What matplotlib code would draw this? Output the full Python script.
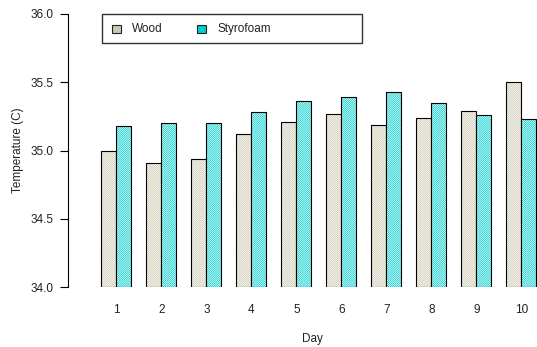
import matplotlib
matplotlib.use("Agg")
import matplotlib.pyplot as plt
from matplotlib.patches import Rectangle

days = ["1", "2", "3", "4", "5", "6", "7", "8", "9", "10"]
series = ["Wood", "Styrofoam"]
wood = [35.00, 34.91, 34.94, 35.12, 35.21, 35.27, 35.19, 35.24, 35.29, 35.50]
styrofoam = [35.18, 35.20, 35.20, 35.28, 35.36, 35.39, 35.43, 35.35, 35.26, 35.23]
colors = ["#CDC8B1", "#00CDCD"]
yticks = [34.0, 34.5, 35.0, 35.5, 36.0]

plt.rcParams["font.family"] = ["Liberation Sans", "DejaVu Sans"]
plt.rcParams["hatch.linewidth"] = 0.55

W, H = 537, 347
fig = plt.figure(figsize=(W / 100, H / 100), dpi=100)

ax_left, ax_right = 68, 537
ax_top, ax_bot = 14, 287.3
ax = fig.add_axes([ax_left / W, (H - ax_bot) / H, (ax_right - ax_left) / W, (ax_bot - ax_top) / H])

base = 34.0
x0 = 86.3
scale = 15.0
ax.set_xlim((ax_left - x0) / scale, (ax_right - x0) / scale)
ax.set_ylim(34.0, 36.0)

for s, vals in enumerate([wood, styrofoam]):
    for i, v in enumerate(vals):
        left = 3 * i + 1 + s
        ax.bar(left, v - base, width=1, bottom=base, align="edge",
               facecolor="white", edgecolor=colors[s], hatch="/" * 16, linewidth=0)
        ax.bar(left, v - base, width=1, bottom=base, align="edge",
               fill=False, edgecolor="black", linewidth=0.8)

fs = 8.5
ax.set_xticks([3 * i + 2 for i in range(len(days))])
ax.set_xticklabels(days, fontsize=fs, color="#222222")
ax.tick_params(axis="x", length=0, pad=12)
ax.set_yticks(yticks)
ax.set_yticklabels([f"{t:.1f}" for t in yticks], fontsize=fs, color="#222222")
ax.tick_params(axis="y", length=6, width=0.8, pad=4.5, direction="out")
for sp in ["top", "right", "bottom"]:
    ax.spines[sp].set_visible(False)
ax.spines["left"].set_linewidth(0.8)

fig.text(18 / W, 1 - 150.5 / H, "Temperature (C)", rotation=90, ha="center", va="center",
         fontsize=fs, color="#222222")
fig.text(312 / W, 1 - 339 / H, "Day", ha="center", va="center", fontsize=fs, color="#222222")

# legend
fig.patches.append(Rectangle((101.5 / W, 1 - 42.7 / H), (362 - 101.5) / W, (42.7 - 14.3) / H,
                             transform=fig.transFigure, facecolor="white", edgecolor="#333333",
                             linewidth=1.0))
key_x = [112, 197.5]
txt_x = [132, 217]
for s in range(2):
    fig.patches.append(Rectangle((key_x[s] / W, 1 - 32.5 / H), 8.5 / W, 7 / H,
                                 transform=fig.transFigure, facecolor=colors[s],
                                 edgecolor="#222222", linewidth=0.8))
    fig.text(txt_x[s] / W, 1 - 29 / H, series[s], ha="left", va="center",
             fontsize=fs, color="#222222")

fig.savefig("out.png", dpi=100)
